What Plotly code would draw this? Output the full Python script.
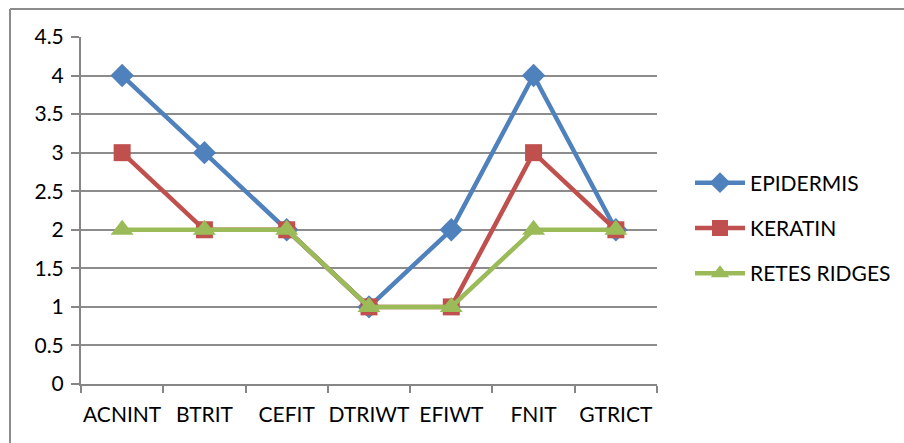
import plotly.graph_objects as go

categories = ["ACNINT", "BTRIT", "CEFIT", "DTRIWT", "EFIWT", "FNIT", "GTRICT"]
epidermis = [4, 3, 2, 1, 2, 4, 2]
keratin = [3, 2, 2, 1, 1, 3, 2]
retes_ridges = [2, 2, 2, 1, 1, 2, 2]
y_ticks = [0, 0.5, 1, 1.5, 2, 2.5, 3, 3.5, 4, 4.5]
y_labels = ["0", "0.5", "1", "1.5", "2", "2.5", "3", "3.5", "4", "4.5"]

FONT = "Lato"
FS = 21
fig = go.Figure()
series = [
    ("EPIDERMIS", epidermis, "#4F81BD", "diamond", 18),
    ("KERATIN", keratin, "#C0504D", "square", 17),
    ("RETES RIDGES", retes_ridges, "#9BBB59", "triangle-up", 20),
]
for i, (name, vals, col, sym, sz) in enumerate(series):
    fig.add_trace(go.Scatter(
        x=categories, y=vals, name=name, mode="lines+markers",
        line=dict(color=col, width=4.5),
        marker=dict(symbol=sym, size=sz, color=col, line=dict(width=0)),
        legendgroup=str(i),
    ))

W, H = 904, 443
L, R, T, B = 81, 657, 37, 384
fig.update_layout(
    width=W, height=H,
    margin=dict(l=L, r=W - R, t=T, b=H - B, autoexpand=False),
    paper_bgcolor="white", plot_bgcolor="white",
    font=dict(family=FONT, size=FS, color="black"),
    showlegend=True,
    legend=dict(x=(690 - L) / (R - L), y=(B - 228) / (B - T), xanchor="left", yanchor="middle",
                itemwidth=50, tracegroupgap=15, font=dict(size=FS, family=FONT),
                bgcolor="rgba(0,0,0,0)"),
    xaxis=dict(type="category", range=[-0.5, 6.5], showgrid=False, automargin=False,
               showline=True, linecolor="#868686", linewidth=2,
               ticks="outside", tickson="boundaries", ticklen=7,
               tickcolor="#868686", tickwidth=2, tickfont=dict(size=FS),
               tickangle=0, ticklabelstandoff=11),
    yaxis=dict(range=[0, 4.5], tickvals=y_ticks, ticktext=y_labels, automargin=False,
               showgrid=True, gridcolor="#8c8c8c", gridwidth=1.5,
               showline=True, linecolor="#868686", linewidth=2,
               ticks="outside", ticklen=8, tickcolor="#868686", tickwidth=2,
               zeroline=False, tickfont=dict(size=FS), ticklabelstandoff=3),
    shapes=[
        dict(type="line", xref="paper", yref="paper",
             x0=(10 - L) / (R - L), x1=(10 - L) / (R - L),
             y0=(B - 9) / (B - T), y1=(B - 460) / (B - T),
             line=dict(color="#8c8c8c", width=2)),
        dict(type="line", xref="paper", yref="paper",
             x0=(10 - L) / (R - L), x1=(910 - L) / (R - L),
             y0=(B - 9) / (B - T), y1=(B - 9) / (B - T),
             line=dict(color="#8c8c8c", width=2)),
    ],
)
fig.write_html("out.html", config={"displayModeBar": False},
               post_script="document.body.style.margin='0';")
